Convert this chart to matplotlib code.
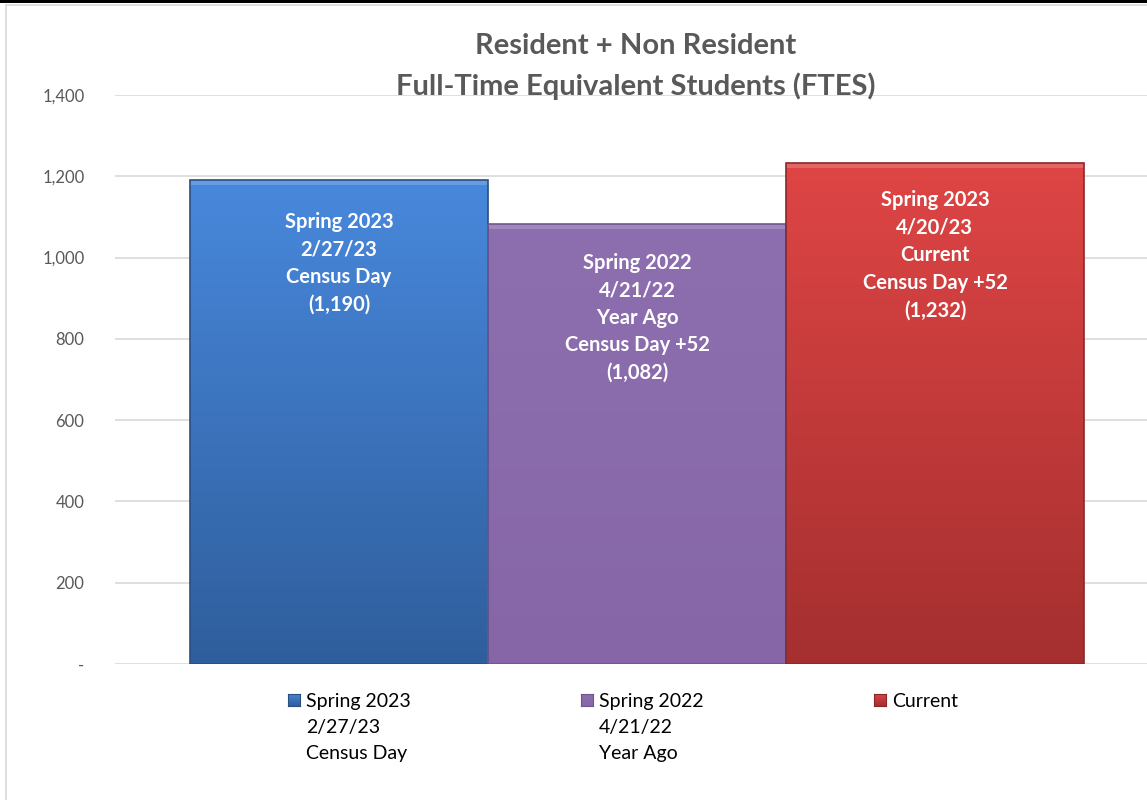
import numpy as np
import matplotlib.pyplot as plt
from matplotlib.colors import LinearSegmentedColormap
from matplotlib.patches import Rectangle
from matplotlib.ticker import FuncFormatter

plt.rcParams['font.family'] = ['Lato', 'DejaVu Sans']

# ── Data ──────────────────────────────────────────────────────────────────────
series = ['Spring 2023\n2/27/23\nCensus Day',
          'Spring 2022\n4/21/22\nYear Ago',
          'Current']
values = [1190, 1082, 1232]
bar_labels = ['Spring 2023\n2/27/23\nCensus Day\n(1,190)',
              'Spring 2022\n4/21/22\nYear Ago\nCensus Day +52\n(1,082)',
              'Spring 2023\n4/20/23\nCurrent\nCensus Day +52\n(1,232)']
yticks = [0, 200, 400, 600, 800, 1000, 1200, 1400]

# gradient colours (top, bottom) and outline
top_cols = ['#4888DC', '#8D6FB0', '#DF4545']
bot_cols = ['#2F5E9C', '#8666A7', '#A52F2F']
edge_cols = ['#2A4F80', '#6E5590', '#8A2828']

# ── Figure ────────────────────────────────────────────────────────────────────
W, H = 1147, 800
fig = plt.figure(figsize=(W / 100, H / 100), dpi=100)

# plot area in pixels: x 115..1159, y 95..664
ax = fig.add_axes([115 / W, (H - 664) / H, (1159 - 115) / W, (664 - 95) / H])
ax.set_xlim(-0.752, 2.752)
ax.set_ylim(0, 1400)

for y in yticks:
    ax.axhline(y, color='#D9D9D9', lw=1.2, zorder=0)

grad = np.linspace(1, 0, 256).reshape(-1, 1)
for i, v in enumerate(values):
    cmap = LinearSegmentedColormap.from_list(f'g{i}', [bot_cols[i], top_cols[i]])
    rect = Rectangle((i - 0.5, 0), 1.0, v, facecolor='none',
                     edgecolor=edge_cols[i], lw=1.2, zorder=3)
    ax.add_patch(rect)
    im = ax.imshow(grad, cmap=cmap, aspect='auto', extent=(i - 0.5, i + 0.5, 0, v),
                   zorder=2, interpolation='bicubic')
    im.set_clip_path(rect)
    # light bevel at top
    ax.add_patch(Rectangle((i - 0.5, v - 12), 1.0, 12, facecolor='white',
                           alpha=0.18, lw=0, zorder=2.5))

# label positions (top of text block, data units)
label_tops = [1112, 1012, 1166]
for i, (txt, yt) in enumerate(zip(bar_labels, label_tops)):
    ax.text(i, yt, txt, ha='center', va='top', color='white', fontsize=14.5,
            fontweight='bold', linespacing=1.47, zorder=4)

ax.set_yticks(yticks)
ax.yaxis.set_major_formatter(FuncFormatter(lambda v, p: '-' if v == 0 else f'{v:,.0f}'))
ax.tick_params(axis='y', length=0, labelsize=12, labelcolor='#595959', pad=22)
ax.set_xticks([])
for s in ax.spines.values():
    s.set_visible(False)

# title
fig.text(636 / W, 1 - 46 / H, 'Resident + Non Resident', ha='center', va='center',
         fontsize=21, fontweight='bold', color='#595959')
fig.text(636 / W, 1 - 86 / H, 'Full-Time Equivalent Students (FTES)', ha='center',
         va='center', fontsize=21, fontweight='bold', color='#595959')

# legend
leg_x = [294, 587, 880]
for i, s in enumerate(series):
    cmap = LinearSegmentedColormap.from_list(f'l{i}', [bot_cols[i], top_cols[i]])
    lax = fig.add_axes([(leg_x[i] - 6) / W, 1 - 706 / H, 12 / W, 12 / H])
    lax.imshow(grad, cmap=cmap, aspect='auto')
    lax.set_xticks([])
    lax.set_yticks([])
    for sp in lax.spines.values():
        sp.set_color(edge_cols[i])
        sp.set_linewidth(0.8)
    fig.text((leg_x[i] + 12) / W, 1 - 693 / H, s, ha='left', va='top',
             fontsize=14, color='black', linespacing=1.65)

# chart borders
fig.add_artist(Rectangle((0, 1 - 3 / H), 1, 3 / H, transform=fig.transFigure,
                         facecolor='black', lw=0))
fig.add_artist(plt.Line2D([6 / W, 6 / W], [0, 1 - 5 / H], color='#D9D9D9', lw=1.2))
fig.add_artist(plt.Line2D([6 / W, 1], [1 - 5 / H, 1 - 5 / H], color='#D9D9D9', lw=1.2))

fig.savefig('out.png', dpi=100)
